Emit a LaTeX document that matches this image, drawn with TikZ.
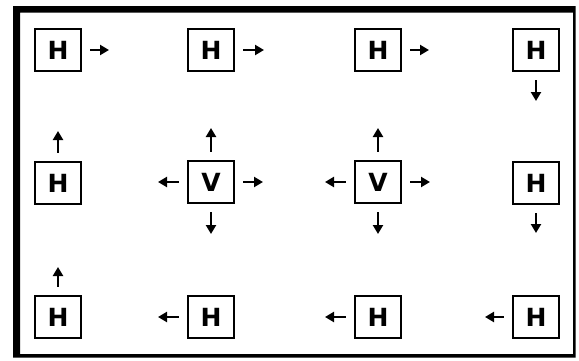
\documentclass[tikz,border=0pt]{standalone}
\usepackage{fontspec}
\newfontfamily\letra{DejaVu Sans}
\usetikzlibrary{arrows.meta}

\begin{document}
\begin{tikzpicture}[x=1pt, y=-1pt,
    caixa/.style={draw, line width=2.8pt, minimum width=46pt, minimum height=42pt, inner sep=0pt, font=\letra\bfseries\fontsize{25}{25}\selectfont},
    seta/.style={-{Triangle[length=9pt,width=10pt]}, line width=2.5pt, shorten <=8pt}]
        \useasboundingbox (0,0) rectangle (579,360);
        % Moldura
        \fill[even odd rule] (13,6) rectangle (575.5,357.5) (20,12.5) rectangle (573,354);
        % Caixas
        \node[caixa] (h1) at (58,50) {H};
        \node[caixa] (h2) at (211,50) {H};
        \node[caixa] (h3) at (378,50) {H};
        \node[caixa] (h4) at (536,50) {H};
        \node[caixa] (h5) at (58,183) {H};
        \node[caixa] (v1) at (211,182) {V};
        \node[caixa] (v2) at (378,182) {V};
        \node[caixa] (h6) at (536,183) {H};
        \node[caixa] (h7) at (58,317) {H};
        \node[caixa] (h8) at (211,317) {H};
        \node[caixa] (h9) at (378,317) {H};
        \node[caixa] (h10) at (536,317) {H};
        % Pontas das setas
        \coordinate (s1) at (109,50);
        \coordinate (s2) at (264,50);
        \coordinate (s3) at (429,50);
        \coordinate (s4) at (536,101);
        \coordinate (s5) at (58,131);
        \coordinate (v1c) at (211,128);
        \coordinate (v1e) at (158,182);
        \coordinate (v1d) at (263,182);
        \coordinate (v1b) at (211,234);
        \coordinate (v2c) at (378,128);
        \coordinate (v2e) at (325,182);
        \coordinate (v2d) at (430,182);
        \coordinate (v2b) at (378,234);
        \coordinate (s6) at (536,233);
        \coordinate (s7) at (58,267);
        \coordinate (s8) at (158,317);
        \coordinate (s9) at (325,317);
        \coordinate (s10) at (485,317);
        % Setas
        \draw[seta] (h1) -- (s1);
        \draw[seta] (h2) -- (s2);
        \draw[seta] (h3) -- (s3);
        \draw[seta] (h4) -- (s4);
        \draw[seta] (h5) -- (s5);
        \draw[seta] (v1) -- (v1c);
        \draw[seta] (v1) -- (v1e);
        \draw[seta] (v1) -- (v1d);
        \draw[seta] (v1) -- (v1b);
        \draw[seta] (v2) -- (v2c);
        \draw[seta] (v2) -- (v2e);
        \draw[seta] (v2) -- (v2d);
        \draw[seta] (v2) -- (v2b);
        \draw[seta] (h6) -- (s6);
        \draw[seta] (h7) -- (s7);
        \draw[seta] (h8) -- (s8);
        \draw[seta] (h9) -- (s9);
        \draw[seta] (h10) -- (s10);
    \end{tikzpicture}
\end{document}
